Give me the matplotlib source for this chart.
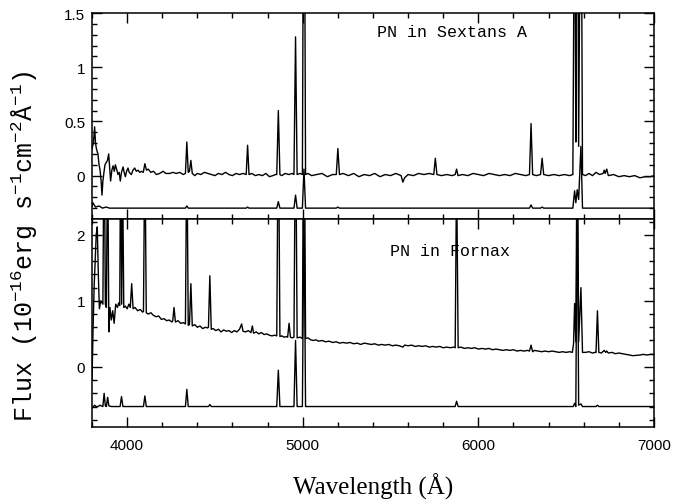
import matplotlib
matplotlib.use('Agg')
import matplotlib.pyplot as plt
from matplotlib.ticker import MultipleLocator, FormatStrFormatter

# === Data ===
# PN in Sextans A, upper trace
sex_wave = [3800, 3808, 3815, 3820, 3825, 3830, 3834, 3840, 3846, 3852, 3857, 3862, 3868,
            3874, 3881, 3888, 3895, 3900, 3906, 3913, 3920, 3927, 3933, 3940, 3948, 3955,
            3961, 3968, 3977, 3983, 3990, 3997, 4005, 4012, 4024, 4033, 4043, 4052, 4062,
            4072, 4081, 4092, 4101, 4110, 4120, 4135, 4150, 4167, 4185, 4205, 4220, 4243,
            4260, 4281, 4300, 4319, 4332, 4340, 4348, 4355, 4363, 4371, 4385, 4400, 4420,
            4440, 4460, 4480, 4500, 4520, 4540, 4560, 4580, 4600, 4620, 4640, 4660, 4678,
            4686, 4694, 4710, 4730, 4750, 4770, 4790, 4810, 4830, 4845, 4852, 4861, 4870,
            4880, 4900, 4920, 4940, 4950, 4959, 4968, 4985, 4998, 5007, 5016, 5030, 5050,
            5080, 5110, 5140, 5170, 5191, 5200, 5209, 5230, 5260, 5290, 5320, 5350, 5380,
            5410, 5440, 5470, 5500, 5530, 5560, 5570, 5580, 5600, 5630, 5660, 5690, 5720,
            5746, 5755, 5764, 5790, 5820, 5850, 5868, 5876, 5884, 5910, 5940, 5970, 6000,
            6030, 6060, 6090, 6120, 6150, 6180, 6210, 6240, 6270, 6291, 6300, 6309, 6330,
            6354, 6363, 6372, 6400, 6430, 6460, 6490, 6520, 6538, 6548, 6555, 6563, 6571,
            6584, 6593, 6610, 6630, 6650, 6670, 6690, 6710, 6717, 6722, 6731, 6740, 6770,
            6800, 6830, 6860, 6890, 6920, 6950, 6980, 7000]
sex_flux = [0.25, 0.30, 0.45, 0.30, 0.25, 0.22, 0.20, 0.10, 0.05, -0.05, -0.18, -0.05, 0.03,
            0.10, 0.12, 0.14, 0.20, 0.08, -0.05, 0.05, 0.09, 0.04, 0.10, 0.06, 0.01, 0.03,
            -0.05, 0.03, 0.08, 0.03, -0.01, 0.04, 0.07, 0.03, 0.01, 0.05, 0.07, 0.04, 0.05,
            0.03, 0.04, 0.03, 0.11, 0.05, 0.06, 0.03, 0.04, 0.01, 0.02, 0.04, 0.02, 0.02,
            0.03, 0.02, 0.03, 0.01, 0.02, 0.31, 0.03, 0.04, 0.14, 0.02, 0.00, 0.02, 0.01,
            0.03, 0.02, 0.01, 0.00, 0.02, 0.01, 0.03, 0.01, 0.00, 0.02, 0.01, 0.02, 0.01,
            0.28, 0.01, 0.02, 0.00, 0.01, 0.00, 0.02, -0.01, 0.00, 0.01, 0.01, 0.60, 0.01,
            0.00, 0.02, 0.01, 0.02, 0.01, 1.28, 0.01, 0.02, 0.01, 4.00, 0.01, 0.02, 0.00,
            0.01, 0.02, -0.01, 0.01, 0.01, 0.25, 0.01, 0.02, 0.00, 0.02, -0.01, 0.01, 0.00,
            0.02, -0.01, 0.01, 0.00, 0.02, 0.00, -0.06, -0.02, 0.01, 0.00, 0.02, 0.01, 0.02,
            0.01, 0.16, 0.01, 0.00, 0.01, 0.00, 0.01, 0.06, 0.00, 0.01, 0.00, 0.02, 0.01,
            0.00, 0.02, 0.01, 0.00, 0.01, 0.00, 0.02, 0.01, 0.00, 0.01, 0.48, 0.01, 0.00,
            0.01, 0.16, 0.01, 0.00, 0.01, 0.00, 0.01, 0.00, 0.01, 3.00, 0.31, 4.00, 0.27,
            3.50, 0.01, 0.00, 0.02, 0.00, 0.03, 0.01, 0.02, 0.05, 0.02, 0.06, 0.00, 0.01,
            -0.01, 0.00, -0.01, 0.00, -0.02, -0.01, -0.01, 0.00]

# PN in Sextans A, lower (scaled) trace
sex_low_wave = [3800, 3805, 3812, 3820, 3840, 3860, 3880, 3900, 3950, 4000, 4332, 4340, 4348,
                4678, 4686, 4694, 4852, 4861, 4870, 4950, 4959, 4968, 4998, 5007, 5016, 5191,
                5200, 5209, 6291, 6300, 6309, 6354, 6363, 6372, 6538, 6548, 6555, 6563, 6571,
                6584, 6593, 6700, 7000]
sex_low_flux = [-0.28, -0.25, -0.27, -0.29, -0.28, -0.30, -0.29, -0.30, -0.30, -0.30, -0.30,
                -0.28, -0.30, -0.30, -0.29, -0.30, -0.30, -0.24, -0.30, -0.30, -0.18, -0.30,
                -0.30, 0.06, -0.30, -0.30, -0.29, -0.30, -0.30, -0.27, -0.30, -0.30, -0.29,
                -0.30, -0.30, -0.14, -0.25, -0.13, -0.22, 0.27, -0.30, -0.30, -0.30]

# PN in Fornax, upper trace
fnx_wave = [3800, 3806, 3812, 3818, 3824, 3830, 3836, 3842, 3850, 3862, 3869, 3876, 3882,
            3889, 3896, 3902, 3910, 3918, 3926, 3935, 3945, 3952, 3958, 3964, 3969, 3974,
            3981, 3990, 4000, 4010, 4018, 4026, 4034, 4045, 4060, 4075, 4088, 4093, 4101,
            4109, 4120, 4135, 4150, 4165, 4180, 4195, 4210, 4225, 4240, 4255, 4260, 4267,
            4275, 4290, 4305, 4320, 4332, 4340, 4348, 4355, 4363, 4371, 4385, 4400, 4415,
            4430, 4445, 4458, 4463, 4471, 4479, 4490, 4505, 4520, 4535, 4550, 4565, 4580,
            4595, 4610, 4625, 4640, 4652, 4660, 4675, 4690, 4705, 4713, 4720, 4735, 4750,
            4765, 4780, 4795, 4810, 4825, 4840, 4852, 4861, 4870, 4880, 4895, 4908, 4914,
            4922, 4930, 4940, 4950, 4959, 4968, 4985, 4998, 5007, 5016, 5030, 5045, 5060,
            5075, 5090, 5110, 5130, 5150, 5170, 5190, 5210, 5230, 5250, 5270, 5290, 5310,
            5330, 5350, 5370, 5390, 5410, 5430, 5450, 5470, 5490, 5510, 5530, 5550, 5570,
            5580, 5600, 5620, 5640, 5660, 5680, 5700, 5720, 5740, 5760, 5780, 5800, 5820,
            5840, 5860, 5868, 5876, 5885, 5900, 5920, 5940, 5960, 5980, 6000, 6020, 6040,
            6060, 6080, 6100, 6120, 6140, 6160, 6180, 6200, 6220, 6240, 6260, 6280, 6291,
            6300, 6309, 6320, 6340, 6360, 6380, 6400, 6420, 6440, 6460, 6480, 6500, 6520,
            6535, 6542, 6548, 6555, 6563, 6571, 6584, 6593, 6610, 6630, 6650, 6665, 6670,
            6678, 6686, 6700, 6717, 6725, 6731, 6740, 6760, 6780, 6800, 6820, 6840, 6860,
            6880, 6900, 6920, 6940, 6960, 6980, 7000]
fnx_flux = [-0.20, 0.57, 1.20, 1.60, 2.00, 2.12, 1.40, 0.88, 1.00, 0.95, 4.00, 0.95, 0.90,
            3.50, 0.53, 0.90, 0.71, 0.85, 0.66, 0.95, 0.90, 0.97, 0.93, 4.00, 0.95, 3.00,
            0.90, 0.92, 0.88, 0.95, 0.90, 1.26, 0.88, 0.90, 0.85, 0.87, 0.83, 0.84, 3.50,
            0.82, 0.80, 0.82, 0.78, 0.76, 0.77, 0.72, 0.73, 0.70, 0.71, 0.68, 0.70, 0.90,
            0.68, 0.70, 0.66, 0.67, 0.65, 3.50, 0.63, 0.64, 1.26, 0.62, 0.64, 0.60, 0.62,
            0.58, 0.60, 0.59, 0.60, 1.38, 0.57, 0.58, 0.55, 0.57, 0.53, 0.56, 0.54, 0.55,
            0.52, 0.55, 0.53, 0.57, 0.65, 0.54, 0.53, 0.55, 0.52, 0.62, 0.51, 0.53, 0.50,
            0.52, 0.49, 0.50, 0.48, 0.47, 0.48, 0.47, 4.00, 0.46, 0.47, 0.45, 0.46, 0.45,
            0.66, 0.45, 0.44, 0.45, 4.00, 0.44, 0.45, 0.43, 5.00, 0.43, 0.44, 0.41, 0.40,
            0.41, 0.39, 0.40, 0.38, 0.39, 0.37, 0.38, 0.36, 0.37, 0.36, 0.37, 0.35, 0.36,
            0.34, 0.36, 0.35, 0.34, 0.35, 0.33, 0.34, 0.33, 0.34, 0.32, 0.33, 0.32, 0.30,
            0.33, 0.32, 0.33, 0.31, 0.32, 0.31, 0.32, 0.30, 0.31, 0.30, 0.31, 0.29, 0.30,
            0.29, 0.30, 0.29, 3.00, 0.29, 0.30, 0.28, 0.29, 0.28, 0.29, 0.27, 0.28, 0.27,
            0.28, 0.26, 0.27, 0.26, 0.25, 0.26, 0.25, 0.26, 0.24, 0.25, 0.24, 0.25, 0.24,
            0.33, 0.23, 0.25, 0.24, 0.23, 0.24, 0.23, 0.24, 0.23, 0.22, 0.23, 0.22, 0.23,
            0.22, 0.35, 0.96, 0.38, 4.00, 0.38, 1.20, 0.22, 0.22, 0.23, 0.21, 0.22, 0.22,
            0.85, 0.22, 0.21, 0.25, 0.22, 0.24, 0.21, 0.22, 0.20, 0.21, 0.20, 0.19, 0.18,
            0.17, 0.175, 0.18, 0.19, 0.18, 0.19, 0.19]

# PN in Fornax, lower (scaled) trace
fnx_low_wave = [3800, 3808, 3815, 3822, 3835, 3845, 3862, 3869, 3876, 3882, 3889, 3896, 3910,
                3940, 3960, 3968, 3976, 4000, 4093, 4101, 4109, 4200, 4332, 4340, 4348, 4463,
                4471, 4479, 4852, 4861, 4870, 4950, 4959, 4968, 4998, 5007, 5016, 5868, 5876,
                5885, 6540, 6548, 6555, 6563, 6571, 6584, 6593, 6670, 6678, 6686, 7000]
fnx_low_flux = [-0.62, -0.60, -0.58, -0.60, -0.60, -0.58, -0.60, -0.40, -0.59, -0.60, -0.46,
                -0.59, -0.60, -0.60, -0.60, -0.45, -0.60, -0.60, -0.60, -0.44, -0.60, -0.60,
                -0.60, -0.34, -0.60, -0.60, -0.57, -0.60, -0.60, -0.05, -0.60, -0.60, 0.40,
                -0.60, -0.60, 2.50, -0.60, -0.60, -0.52, -0.60, -0.60, -0.55, -0.60, 3.00,
                -0.58, -0.56, -0.60, -0.60, -0.58, -0.60, -0.60]

x_range = (3800, 7000)
top_ylim = (-0.40, 1.5)
bot_ylim = (-0.91, 2.24)

label_font = 'Liberation Mono'
xlabel_font = 'Liberation Serif'
tick_font = 'Liberation Sans'

plt.rcParams['mathtext.fontset'] = 'custom'
plt.rcParams['mathtext.rm'] = label_font
plt.rcParams['mathtext.it'] = label_font

# === Plot ===
fig = plt.figure(figsize=(6.74, 5.02), dpi=100)
left, right = 0.1365, 0.9703
ax_top = fig.add_axes([left, 0.5618, right - left, 0.9721 - 0.5618])
ax_bot = fig.add_axes([left, 0.1474, right - left, 0.5618 - 0.1474])

ax_top.plot(sex_wave, sex_flux, color='black', lw=1.0)
ax_top.plot(sex_low_wave, sex_low_flux, color='black', lw=1.0)
ax_bot.plot(fnx_wave, fnx_flux, color='black', lw=1.0)
ax_bot.plot(fnx_low_wave, fnx_low_flux, color='black', lw=1.0)

ax_top.set_ylim(*top_ylim)
ax_bot.set_ylim(*bot_ylim)

for ax in (ax_top, ax_bot):
    ax.set_xlim(*x_range)
    ax.xaxis.set_major_locator(MultipleLocator(1000))
    ax.xaxis.set_minor_locator(MultipleLocator(200))
    ax.tick_params(which='both', direction='in', top=True, right=True, width=1.0,
                   labelsize=11, pad=5)
    ax.tick_params(which='major', length=7.5)
    ax.tick_params(which='minor', length=3.8)
    for sp in ax.spines.values():
        sp.set_linewidth(1.1)

ax_top.yaxis.set_major_locator(MultipleLocator(0.5))
ax_top.yaxis.set_minor_locator(MultipleLocator(0.1))
ax_top.yaxis.set_major_formatter(FormatStrFormatter('%g'))
ax_top.tick_params(axis='x', labelbottom=False)

ax_bot.yaxis.set_major_locator(MultipleLocator(1))
ax_bot.yaxis.set_minor_locator(MultipleLocator(0.2))
ax_bot.yaxis.set_major_formatter(FormatStrFormatter('%g'))
ax_bot.tick_params(axis='x', pad=8)

for ax in (ax_top, ax_bot):
    for lab in ax.get_xticklabels() + ax.get_yticklabels():
        lab.set_family(tick_font)

ax_top.text(5423, 1.33, 'PN in Sextans A', family=label_font, fontsize=12, va='center')
ax_bot.text(5497, 1.76, 'PN in Fornax', family=label_font, fontsize=12, va='center')

fig.text(0.553, 0.03, 'Wavelength (Å)', family=xlabel_font, fontsize=18,
         ha='center', va='center')
fig.text(0.037, 0.51,
         r'Flux (10$^{\mathrm{-16}}$erg s$^{\mathrm{-1}}$cm$^{\mathrm{-2}}$Å$^{\mathrm{-1}}$)',
         family=label_font, fontsize=18, rotation=90, ha='center', va='center')

plt.savefig('out.png', dpi=100)
